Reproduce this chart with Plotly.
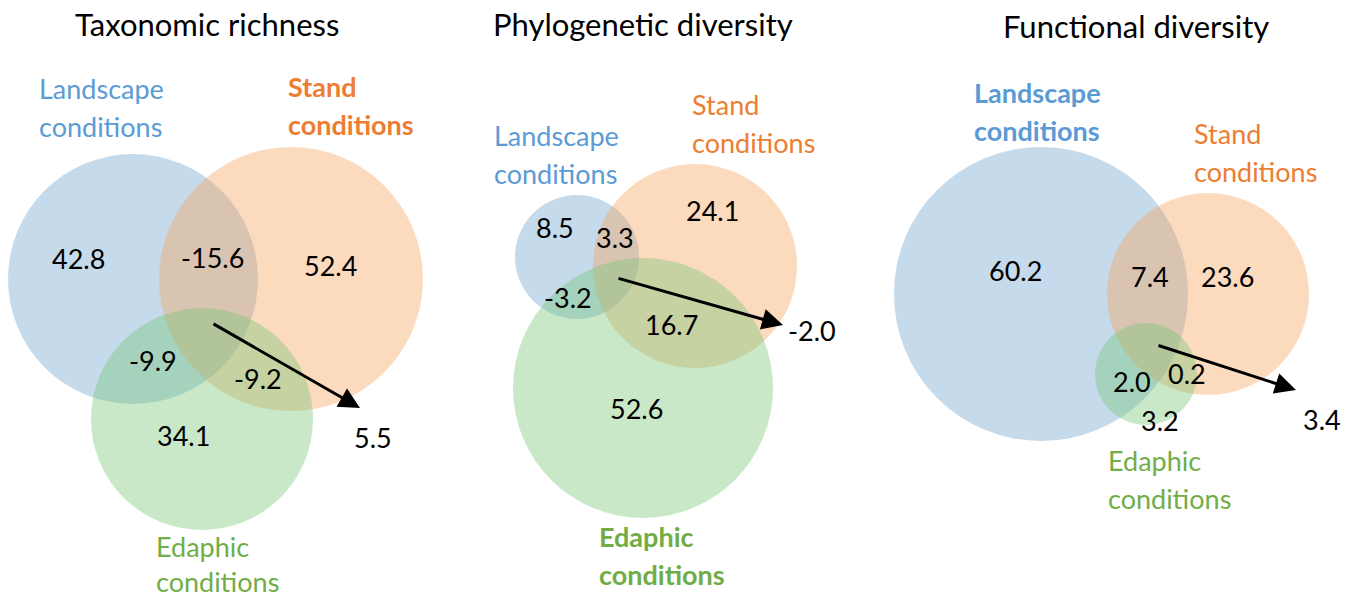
import plotly.graph_objects as go

# ---- data ----
panel_titles = ["Taxonomic richness", "Phylogenetic diversity", "Functional diversity"]
set_names = ["Landscape", "Stand", "Edaphic"]
# fractions: [L only, S only, E only, L&S, L&E, S&E, L&S&E]
taxonomic = [42.8, 52.4, 34.1, -15.6, -9.9, -9.2, 5.5]
phylogenetic = [8.5, 24.1, 52.6, 3.3, -3.2, 16.7, -2.0]
functional = [60.2, 23.6, 3.2, 7.4, 2.0, 0.2, 3.4]
panel_values = [taxonomic, phylogenetic, functional]
# which set label is bold in each panel
bold_set = ["Stand", "Edaphic", "Landscape"]

# ---- layout geometry (page pixel space) ----
W, H = 1354, 600
title_pos = [(207, 24), (643, 24), (1136, 26)]
# circle centres/radii per panel: L, S, E
circles = [
    [(133, 279, 125), (291, 279, 132), (202, 419, 111)],
    [(577, 257, 62), (695, 266, 102), (643, 388, 130)],
    [(1041, 294, 147), (1208, 294, 101), (1146, 374, 51)],
]
# value label positions: same order as value arrays (last = arrow tip label)
value_pos = [
    [(78, 258), (330, 265), (183, 435), (212, 257), (153, 360), (258, 378), (373, 437)],
    [(555, 227), (712, 210), (636, 408), (615, 237), (568, 297), (671, 324), (812, 330)],
    [(1015, 270), (1227, 276), (1160, 420), (1150, 276), (1132, 381), (1187, 373), (1322, 419)],
]
arrows = [((212, 323), (360, 408)), ((617, 278), (783, 325)), ((1157, 345), (1296, 390))]
# set label positions (left x, first line y, line gap)
set_label_pos = [
    [(38, 88, 38), (287, 86, 38), (155, 546, 35)],
    [(493, 135, 38), (691, 104, 38), (598, 536, 38)],
    [(973, 92, 38), (1193, 133, 38), (1107, 460, 38)],
]

fill_cols = ["rgba(110,162,205,0.4)", "rgba(247,162,92,0.4)", "rgba(117,197,117,0.4)"]
text_cols = ["#5B9BD5", "#ED7D31", "#70AD47"]
FONT = "Lato, 'Open Sans', sans-serif"

fig = go.Figure()
fig.add_trace(go.Scatter(x=[0, W], y=[0, H], mode="markers", marker=dict(opacity=0),
                         hoverinfo="skip", showlegend=False))

shapes = []
annotations = []
for p in range(3):
    for k, (cx, cy, r) in enumerate(circles[p]):
        shapes.append(dict(type="circle", xref="x", yref="y", x0=cx - r, x1=cx + r, y0=cy - r, y1=cy + r,
                           fillcolor=fill_cols[k], line=dict(width=0), layer="below"))
    tx, ty = title_pos[p]
    annotations.append(dict(x=tx, y=ty, xref="x", yref="y", text=panel_titles[p], showarrow=False,
                            font=dict(size=31, color="black", family=FONT), xanchor="center", yanchor="middle"))
    for k, name in enumerate(set_names):
        lx, ly, gap = set_label_pos[p][k]
        bold = bold_set[p] == name
        for j, word in enumerate([name, "conditions"]):
            t = f"<b>{word}</b>" if bold else word
            annotations.append(dict(x=lx, y=ly + j * gap, xref="x", yref="y", text=t, showarrow=False,
                                    font=dict(size=27, color=text_cols[k], family=FONT),
                                    xanchor="left", yanchor="middle", borderpad=0))
    for v, (vx, vy) in zip(panel_values[p], value_pos[p]):
        annotations.append(dict(x=vx, y=vy, xref="x", yref="y", text=f"{v:.1f}", showarrow=False,
                                font=dict(size=27, color="black", family=FONT), xanchor="center", yanchor="middle"))
    (ax0, ay0), (ax1, ay1) = arrows[p]
    annotations.append(dict(x=ax1, y=ay1, ax=ax0, ay=ay0, xref="x", yref="y", axref="x", ayref="y",
                            text="", showarrow=True, arrowhead=2, arrowsize=1.4, arrowwidth=3, arrowcolor="black",
                            standoff=0))

fig.update_layout(
    width=W, height=H, margin=dict(l=0, r=0, t=0, b=0),
    paper_bgcolor="white", plot_bgcolor="white",
    xaxis=dict(range=[0, W], visible=False, fixedrange=True),
    yaxis=dict(range=[H, 0], visible=False, fixedrange=True),
    shapes=shapes, annotations=annotations, showlegend=False,
)
fig.write_html("out.html", config={"displayModeBar": False},
               post_script="document.body.style.margin='0px';document.body.style.overflow='hidden';")
